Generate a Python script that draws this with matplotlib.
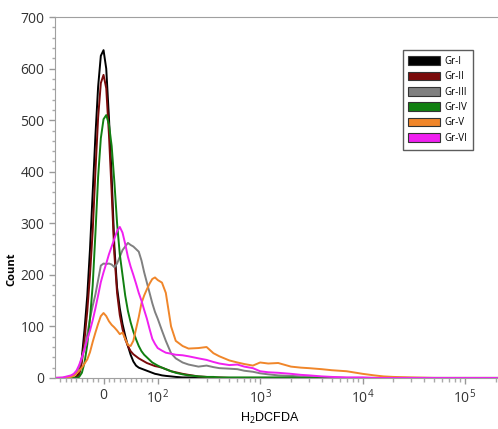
import matplotlib
matplotlib.use("Agg")
import matplotlib.pyplot as plt
from matplotlib.patches import Patch

plt.rcParams['font.family'] = ['Open Sans', 'DejaVu Sans']
plt.rcParams['mathtext.fontset'] = 'custom'
plt.rcParams['mathtext.rm'] = 'Open Sans'
plt.rcParams['mathtext.it'] = 'Open Sans'

# fluorescence intensity channels (H2DCFDA)
intensity = [-90, -75, -60, -55, -50, -45, -40, -35, -30, -25, -20, -15, -10, -5,
             0, 5, 10, 15, 20, 25, 30, 35, 40, 45, 50, 55, 60, 65, 70, 75, 80, 85,
             90, 95, 100,
             110, 120, 135, 150, 175, 200, 250, 300, 350, 400, 500, 600, 700, 850,
             1000, 1200, 1500, 2000, 2500, 3000, 4000, 5000, 7000, 10000, 13000,
             16000, 20000, 30000, 50000, 100000, 210000]

gr1 = [0, 0, 0, 0, 2, 10, 40, 95, 160, 250, 360, 470, 565, 625,
       636, 600, 505, 390, 255, 175, 135, 105, 82, 62, 45, 32, 24, 20, 18, 16, 14, 12,
       10, 8, 7,
       5, 4, 3, 2, 1, 1, 0, 0, 0, 0, 0, 0, 0, 0,
       0, 0, 0, 0, 0, 0, 0, 0, 0, 0, 0,
       0, 0, 0, 0, 0, 0]

gr2 = [0, 0, 0, 0, 1, 6, 30, 75, 130, 200, 285, 400, 505, 572,
       588, 562, 472, 360, 240, 165, 122, 95, 75, 62, 52, 46, 42, 38, 35, 32, 29, 27,
       25, 23, 22,
       20, 17, 13, 11, 8, 6, 3, 2, 1, 1, 0, 0, 0, 0,
       0, 0, 0, 0, 0, 0, 0, 0, 0, 0, 0,
       0, 0, 0, 0, 0, 0]

gr3 = [0, 0, 2, 5, 10, 22, 38, 58, 85, 115, 140, 162, 190, 218,
       222, 221, 222, 220, 215, 222, 235, 248, 255, 262, 258, 255, 250, 245, 228, 205, 185, 165,
       145, 128, 115,
       92, 72, 48, 38, 30, 26, 22, 24, 21, 19, 18, 17, 14, 12,
       9, 7, 5, 4, 3, 2, 1, 1, 0, 0, 0,
       0, 0, 0, 0, 0, 0]

gr4 = [0, 0, 0, 0, 0, 2, 10, 30, 65, 115, 180, 280, 390, 465,
       502, 510, 492, 450, 380, 300, 240, 200, 160, 130, 108, 90, 75, 62, 52, 45, 40, 35,
       30, 27, 24,
       20, 17, 13, 10, 7, 5, 3, 2, 2, 1, 1, 1, 1, 1,
       1, 1, 1, 1, 0, 0, 0, 0, 0, 0, 0,
       0, 0, 0, 0, 0, 0]

gr5 = [0, 0, 2, 4, 8, 14, 20, 28, 36, 50, 70, 88, 105, 120,
       126, 120, 110, 103, 98, 92, 85, 88, 76, 64, 62, 72, 95, 118, 145, 160, 172, 183,
       192, 195, 190,
       185, 165, 100, 72, 62, 57, 58, 60, 48, 42, 34, 30, 27, 24,
       30, 28, 29, 22, 20, 19, 17, 15, 13, 8, 5,
       3, 2, 1, 0, 0, 0]

gr6 = [0, 1, 5, 8, 14, 25, 40, 56, 75, 92, 112, 135, 160, 186,
       205, 222, 240, 255, 270, 285, 293, 282, 260, 235, 216, 200, 183, 165, 150, 132, 115, 95,
       76, 66, 58,
       53, 49, 47, 45, 44, 42, 38, 35, 31, 28, 25, 26, 22, 19,
       13, 11, 10, 8, 6, 5, 3, 2, 1, 1, 0,
       0, 0, 0, 0, 0, 0]

groups = ['Gr-I', 'Gr-II', 'Gr-III', 'Gr-IV', 'Gr-V', 'Gr-VI']
colors = ['#000000', '#7a0a0a', '#808080', '#118011', '#f0862a', '#f020f0']
series = [gr1, gr2, gr3, gr4, gr5, gr6]

fig = plt.figure(figsize=(4.98, 4.29), dpi=100)
ax = fig.add_axes([0.110, 0.119, 0.890, 0.841])

for name, col, ys in zip(groups, colors, series):
    ax.plot(intensity, ys, color=col, lw=1.4, label=name)

ax.set_xscale('symlog', linthresh=100, linscale=0.476)
ax.set_xlim(-90, 2.1e5)
ax.set_ylim(0, 700)

ax.set_xticks([0, 1e2, 1e3, 1e4, 1e5])
ax.set_xticklabels(['0', '$10^2$', '$10^3$', '$10^4$', '$10^5$'])
minor_x = [-80, -70, -60, -50, -40, -30, -20, -10, 10, 20, 30, 40, 50, 60, 70, 80, 90]
for dec in [100, 1000, 10000, 100000]:
    for m in range(2, 10):
        if dec * m < 2.1e5:
            minor_x.append(dec * m)
ax.set_xticks(minor_x, minor=True)

ax.set_yticks(range(0, 701, 100))
ax.set_yticks(range(0, 701, 20), minor=True)

ax.tick_params(axis='both', which='major', labelsize=10, labelcolor='#333333',
               color='#999999', length=4, width=1)
ax.tick_params(axis='both', which='minor', color='#aaaaaa', length=3, width=1)
ax.tick_params(axis='y', which='minor', length=2)

for s in ['left', 'bottom', 'top']:
    ax.spines[s].set_color('#a0a0a0')
ax.spines['right'].set_visible(False)

ax.set_xlabel('H$_2$DCFDA', fontsize=9, family=['Liberation Sans'])
ax.xaxis.set_label_coords(0.485, -0.09)
ax.set_ylabel('Count', fontsize=8, fontweight='bold')
ax.yaxis.set_label_coords(-0.085, 0.30)

handles = [Patch(facecolor=c, edgecolor='#333333', lw=0.8) for c in colors]
ax.legend(handles, groups, loc='upper right', bbox_to_anchor=(0.944, 0.909),
          fontsize=7, frameon=True, fancybox=False, edgecolor='#333333',
          handlelength=3.2, handleheight=1.0, labelspacing=0.45,
          borderpad=0.6, handletextpad=0.5, borderaxespad=0)

fig.savefig('out.png', dpi=100)
